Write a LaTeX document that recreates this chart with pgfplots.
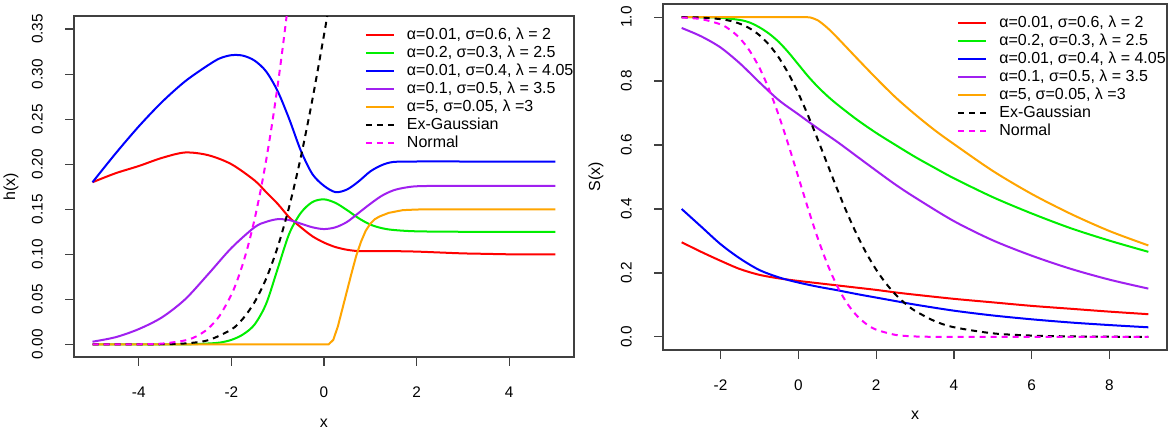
\documentclass[border=0pt]{standalone}
\usepackage{pgfplots}
\pgfplotsset{compat=1.18}
\usepackage{fontspec}
\setmainfont{Liberation Sans}
\definecolor{rred}{HTML}{FF0000}
\definecolor{rgreen}{HTML}{00EE00}
\definecolor{rblue}{HTML}{0000FF}
\definecolor{rpurple}{HTML}{A020F0}
\definecolor{rorange}{HTML}{FFA500}
\definecolor{rmag}{HTML}{FF00FF}
\pgfplotsset{
  rstyle/.style={
    scale only axis,
    anchor=south west,
    axis line style={black!75, line width=0.9pt},
    tick style={black!75, line width=0.9pt},
    tick align=outside,
    major tick length=6.5pt,
    xtick pos=left, ytick pos=left,
    tick label style={font=\fontsize{11.5}{13}\selectfont, black},
    xticklabel style={anchor=center, yshift=-20pt},
    yticklabel style={xshift=-21pt, rotate=90, anchor=center},
    legend style={draw=none, fill=none, anchor=north west,
      font=\fontsize{12}{14}\selectfont, inner sep=0pt, outer sep=0pt,
      row sep=2.5pt, column sep=9pt,
      nodes={inner sep=0pt, text height=9pt, text depth=2pt}},
    legend cell align=left,
    legend image code/.code={\draw[##1] (0pt,0pt) -- (21pt,0pt);},
    every axis plot/.append style={line width=1.5pt},
    dashstyle/.style={dash pattern=on 4.5pt off 3.75pt},
  }
}
\begin{document}
\begin{tikzpicture}
\fill[white, use as bounding box] (0,0) rectangle (877.5pt,321.75pt);
% ---------------- left panel: hazard ----------------
\begin{axis}[rstyle,
  at={(55.5pt,54pt)}, width=375pt, height=255.75pt,
  xmin=-5.4, xmax=5.4, ymin=-0.014, ymax=0.3645,
  xtick={-4,-2,0,2,4}, xticklabels={-4,-2,0,2,4},
  ytick={0,0.05,0.1,0.15,0.2,0.25,0.3,0.35},
  yticklabels={0.00,0.05,0.10,0.15,0.20,0.25,0.30,0.35},
  xlabel={x}, ylabel={h(x)},
  every axis x label/.style={at={(axis description cs:0.5,-0.1935)}, anchor=center, font=\fontsize{12}{14}\selectfont},
  every axis y label/.style={at={(axis description cs:-0.126,0.5)}, rotate=90, anchor=center, font=\fontsize{12}{14}\selectfont},
  legend style={at={(0.582,0.9657)}},
]
\addplot[rred, smooth] coordinates {
(-5,0.180) (-4.5,0.190) (-4,0.198) (-3.5,0.207) (-3,0.213) (-2.5,0.210)
(-2,0.200) (-1.5,0.182) (-1.25,0.169) (-1,0.156) (-0.75,0.141) (-0.5,0.130)
(-0.25,0.120) (0,0.113) (0.25,0.108) (0.5,0.105) (0.75,0.1035) (1,0.1035)
(1.5,0.1035) (2,0.103) (2.5,0.102) (3,0.101) (3.5,0.1005) (4,0.100) (4.5,0.100) (5,0.100)};
\addlegendentry{α=0.01, σ=0.6, λ = 2}
\addplot[rgreen, smooth] coordinates {
(-5,0) (-4,0) (-3,0) (-2.5,0.001) (-2.25,0.002) (-2,0.005) (-1.75,0.011)
(-1.5,0.022) (-1.25,0.045) (-1,0.084) (-0.75,0.123) (-0.5,0.146) (-0.25,0.158)
(0,0.161) (0.25,0.157) (0.5,0.149) (0.75,0.140) (1,0.133) (1.25,0.129)
(1.5,0.127) (2,0.1255) (3,0.125) (4,0.125) (5,0.125)};
\addlegendentry{α=0.2, σ=0.3, λ = 2.5}
\addplot[rblue, smooth] coordinates {
(-5,0.180) (-4.5,0.212) (-4,0.242) (-3.5,0.269) (-3,0.292) (-2.5,0.310)
(-2.25,0.3175) (-2,0.321) (-1.75,0.3205) (-1.5,0.315) (-1.25,0.303) (-1,0.281) (-0.75,0.250)
(-0.5,0.215) (-0.25,0.189) (0,0.176) (0.25,0.169) (0.5,0.172) (0.75,0.181)
(1,0.192) (1.25,0.199) (1.5,0.2025) (2,0.203) (3,0.203) (4,0.203) (5,0.203)};
\addlegendentry{α=0.01, σ=0.4, λ = 4.05}
\addplot[rpurple, smooth] coordinates {
(-5,0.003) (-4.5,0.008) (-4,0.017) (-3.5,0.030) (-3,0.050) (-2.5,0.078)
(-2,0.107) (-1.5,0.130) (-1.25,0.136) (-1,0.139) (-0.75,0.138) (-0.5,0.134)
(-0.25,0.130) (0,0.128) (0.25,0.130) (0.5,0.136) (0.75,0.146) (1,0.156)
(1.25,0.165) (1.5,0.171) (1.75,0.174) (2,0.1755) (2.5,0.176) (3,0.176) (4,0.176) (5,0.176)};
\addlegendentry{α=0.1, σ=0.5, λ = 3.5}
\addplot[rorange] coordinates {
(-5,0) (0.1,0) (0.2,0.005) (0.3,0.02) (0.4,0.04) (0.5,0.06) (0.6,0.08)
(0.7,0.099) (0.8,0.114) (0.9,0.126) (1.0,0.134) (1.1,0.139) (1.2,0.142) (1.4,0.146)
(1.7,0.149) (2,0.1497) (2.5,0.150) (5,0.150)};
\addlegendentry{α=5, σ=0.05, λ =3}
\addplot[black, dashstyle, smooth] coordinates {
(-5,0) (-4.5,0) (-4,0.00003) (-3.5,0.0002) (-3,0.00105) (-2.5,0.00468)
(-2,0.01655) (-1.75,0.02861) (-1.5,0.04686) (-1.25,0.07292) (-1,0.10809)
(-0.75,0.15311) (-0.5,0.20800) (-0.25,0.27197) (0,0.34347) (0.1,0.37372) (0.2,0.40466)};
\addlegendentry{Ex-Gaussian}
\addplot[rmag, dashstyle, smooth] coordinates {
(-5,0) (-4.5,0) (-4,0.00013) (-3.5,0.00087) (-3,0.00444) (-2.75,0.00912)
(-2.5,0.01764) (-2.25,0.03213) (-2,0.05525) (-1.875,0.07094) (-1.75,0.08988)
(-1.625,0.11241) (-1.5,0.13879) (-1.375,0.1694) (-1.25,0.20423) (-1.125,0.2436)
(-1,0.28760) (-0.9,0.32612) (-0.8,0.36756) (-0.7,0.4119)};
\addlegendentry{Normal}
\end{axis}
% ---------------- right panel: survival ----------------
\begin{axis}[rstyle,
  at={(497.25pt,59.25pt)}, width=378pt, height=259.5pt,
  xmin=-3.48, xmax=9.48, ymin=-0.041, ymax=1.041,
  xtick={-2,0,2,4,6,8}, xticklabels={-2,0,2,4,6,8},
  ytick={0,0.2,0.4,0.6,0.8,1.0},
  yticklabels={0.0,0.2,0.4,0.6,0.8,1.0},
  xlabel={x}, ylabel={S(x)},
  every axis x label/.style={at={(axis description cs:0.5,-0.1887)}, anchor=center, font=\fontsize{12}{14}\selectfont},
  every axis y label/.style={at={(axis description cs:-0.133,0.5)}, rotate=90, anchor=center, font=\fontsize{12}{14}\selectfont},
  legend style={at={(0.584,0.966)}},
]
\addplot[rred, smooth] coordinates {
(-3,0.296) (-2.5,0.266) (-2,0.238) (-1.5,0.212) (-1,0.194) (-0.5,0.183)
(0,0.175) (0.5,0.168) (1,0.161) (1.5,0.154) (2,0.147) (2.5,0.139) (3,0.132)
(4,0.119) (5,0.108) (6,0.097) (7,0.088) (8,0.079) (9,0.071)};
\addlegendentry{α=0.01, σ=0.6, λ = 2}
\addplot[rgreen, smooth] coordinates {
(-3,1.0) (-2.5,0.9995) (-2,0.998) (-1.5,0.991) (-1.25,0.983) (-1,0.968)
(-0.75,0.948) (-0.5,0.922) (-0.25,0.889) (0,0.852) (0.25,0.815) (0.5,0.782)
(0.75,0.753) (1,0.727) (1.5,0.680) (2,0.638) (2.5,0.600) (3,0.563) (3.5,0.529)
(4,0.496) (5,0.437) (6,0.386) (7,0.340) (8,0.301) (9,0.266)};
\addlegendentry{α=0.2, σ=0.3, λ = 2.5}
\addplot[rblue, smooth] coordinates {
(-3,0.400) (-2.5,0.345) (-2,0.290) (-1.5,0.245) (-1,0.209) (-0.5,0.186)
(0,0.170) (0.5,0.157) (1,0.146) (1.5,0.134) (2,0.123) (2.5,0.112) (3,0.101)
(4,0.082) (5,0.067) (6,0.055) (7,0.045) (8,0.037) (9,0.030)};
\addlegendentry{α=0.01, σ=0.4, λ = 4.05}
\addplot[rpurple, smooth] coordinates {
(-3,0.966) (-2.5,0.940) (-2,0.905) (-1.5,0.855) (-1,0.796) (-0.5,0.740)
(0,0.696) (0.5,0.652) (1,0.610) (1.5,0.565) (2,0.520) (2.5,0.476) (3,0.436)
(4,0.362) (5,0.302) (6,0.254) (7,0.213) (8,0.179) (9,0.151)};
\addlegendentry{α=0.1, σ=0.5, λ = 3.5}
\addplot[rorange, smooth] coordinates {
(-3,1.0) (-2,1.0) (-1,1.0) (0,1.0) (0.2,1.0) (0.3,0.999) (0.5,0.99)
(0.75,0.966) (1,0.936) (1.5,0.872) (2,0.809) (2.5,0.749) (3,0.696) (3.5,0.647)
(4,0.603) (5,0.519) (6,0.447) (7,0.385) (8,0.331) (9,0.286)};
\addlegendentry{α=5, σ=0.05, λ =3}
\addplot[black, dashstyle, smooth] coordinates {
(-3,0.9997) (-2.5,0.99846) (-2,0.99370) (-1.75,0.98821) (-1.5,0.97907)
(-1.25,0.96469) (-1,0.94330) (-0.75,0.91319) (-0.5,0.87306) (-0.25,0.82237)
(0,0.76158) (0.25,0.69228) (0.5,0.61708) (0.75,0.53916) (1,0.46193)
(1.25,0.38846) (1.5,0.32118) (1.75,0.26163) (2,0.21048) (2.25,0.16763)
(2.5,0.13251) (2.75,0.10416) (3,0.08157) (3.5,0.04971) (4,0.03019)
(5,0.01111) (6,0.00409) (7,0.00150) (8,0.00055) (9,0.00020)};
\addlegendentry{Ex-Gaussian}
\addplot[rmag, dashstyle, smooth] coordinates {
(-3,0.99865) (-2.5,0.99379) (-2,0.97725) (-1.75,0.95994) (-1.5,0.93319)
(-1.25,0.89435) (-1,0.84134) (-0.75,0.77337) (-0.5,0.69146) (-0.25,0.59871)
(0,0.5) (0.25,0.40129) (0.5,0.30854) (0.75,0.22663) (1,0.15866) (1.25,0.10565)
(1.5,0.06681) (1.75,0.04006) (2,0.02275) (2.5,0.00621) (3,0.00135)
(3.5,0.00023) (4,0.00003) (5,0) (7,0) (9,0)};
\addlegendentry{Normal}
\end{axis}
\end{tikzpicture}
\end{document}
